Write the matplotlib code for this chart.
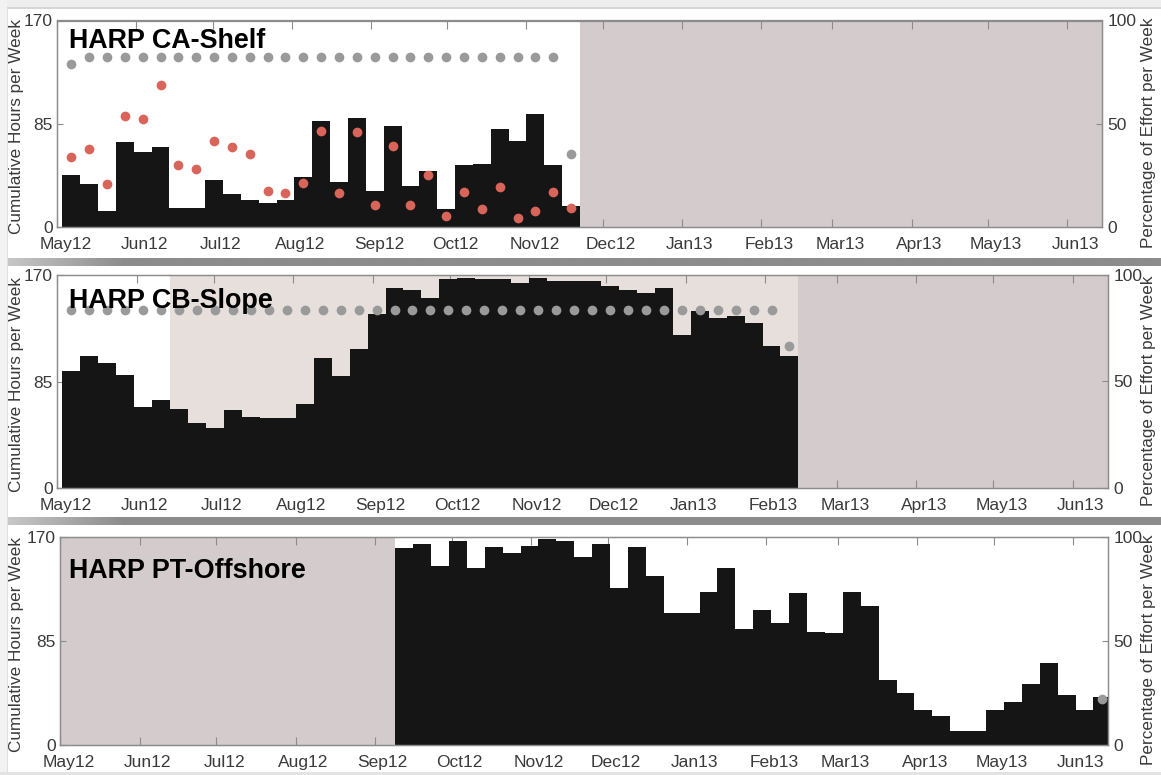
import matplotlib
matplotlib.use('Agg')
import matplotlib.pyplot as plt
import matplotlib.dates as mdates
from matplotlib.patches import Rectangle
from matplotlib.transforms import ScaledTranslation
import numpy as np
import datetime as dt

plt.rcParams['font.family'] = ['Liberation Sans', 'DejaVu Sans']

W, H, DPI = 1161, 775, 100

# ---------------- data ----------------
ca_start = dt.date(2012, 5, 3)
ca_hours = [43, 35, 13, 70, 62, 66, 16, 16, 39, 27, 22, 20, 22, 41, 87, 37, 90, 30,
            83, 34, 46, 15, 51, 52, 81, 71, 93, 51, 17]
ca_red = [57.6, 64, 35, 91, 89, 117, 51, 48, 71, 66, 60, 30, 28, 36, 79, 28, 78, 18,
          67, 18, 43, 9, 29, 15, 33, 7, 13, 29, 16]
ca_effort = [79, 82.5, 82.5, 82.5, 82.5, 82.5, 82.5, 82.5, 82.5, 82.5, 82.5, 82.5,
             82.5, 82.5, 82.5, 82.5, 82.5, 82.5, 82.5, 82.5, 82.5, 82.5, 82.5, 82.5,
             82.5, 82.5, 82.5, 82.5, 35.5]

cb_start = dt.date(2012, 5, 3)
cb_hours = [93, 105, 100, 90, 65, 70, 63, 52, 48, 62, 57, 56, 56, 67, 104, 89, 111,
            139, 160, 158, 152, 167, 168, 167, 167, 164, 168, 165, 165, 165, 161, 158,
            156, 160, 122, 141, 136, 137, 132, 113, 105]
cb_effort = [83.4, 83.4, 83.4, 83.4, 83.4, 83.4, 83.4, 83.4, 83.4, 83.4, 83.4, 83.4,
             83.4, 83.4, 83.4, 83.4, 83.4, 83.4, 83.4, 83.4, 83.4, 83.4, 83.4, 83.4,
             83.4, 83.4, 83.4, 83.4, 83.4, 83.4, 83.4, 83.4, 83.4, 83.4, 83.4, 83.4,
             83.4, 83.4, 83.4, 83.4, 66.7]
cb_light_from_week = 6

pt_start = dt.date(2012, 9, 9)
pt_hours = [161, 164, 146, 167, 145, 162, 157, 163, 168, 167, 154, 164, 128, 162, 138,
            108, 108, 125, 145, 95, 110, 100, 124, 92, 91.5, 125, 114, 53.5, 42.7, 29,
            24, 11.7, 11.7, 29, 35, 50, 67, 41, 29, 39]
pt_effort_week = [39]
pt_effort = [22]

titles = ['HARP CA-Shelf', 'HARP CB-Slope', 'HARP PT-Offshore']
month_ticks = [dt.date(2012, m, 1) for m in range(5, 13)] + [dt.date(2013, m, 1) for m in range(1, 7)]
xlim = (mdates.date2num(dt.date(2012, 5, 1)) - 0.1, mdates.date2num(dt.date(2013, 6, 14)) + 0.7)

DARK = '#d4cbcc'
LIGHT = '#e6dfdc'
BAR = '#151515'
DOT = '#9a9a9a'
RED = '#d8645a'
SPINE = '#8c8c8c'
TXT = '#3a3a3a'

fig = plt.figure(figsize=(W / DPI, H / DPI), dpi=DPI, facecolor='white')


def rect(x0, y0, x1, y1, color, z=0):
    fig.patches.append(Rectangle((x0 / W, 1 - y1 / H), (x1 - x0) / W, (y1 - y0) / H,
                                 transform=fig.transFigure, facecolor=color,
                                 edgecolor='none', zorder=z))


# frame decorations (screenshot borders)
rect(0, 0, W, 8, '#eeeeee')
rect(0, 7.5, W, 8.5, '#d6d6d6')
rect(0, 0, 7, H, '#f2f2f2')
rect(6.5, 8, 7.5, H, '#e0e0e0')
rect(0, 772, W, H, '#e3e3e3')
for (y0, y1) in [(258, 266), (517, 525)]:
    sax = fig.add_axes([7 / W, 1 - y1 / H, (W - 7) / W, (y1 - y0) / H])
    xs = np.linspace(0, 1, 400)
    g = np.clip(xs / 0.1, 0, 1)
    vals = 0.78 - 0.23 * g
    sax.imshow(np.tile(vals, (8, 1)), cmap='gray', vmin=0, vmax=1, aspect='auto',
               extent=(0, 1, 0, 1))
    sax.axis('off')


def px_axes(l, t, r, b):
    return fig.add_axes([l / W, 1 - b / H, (r - l) / W, (b - t) / H])


boxes = [(57, 20.5, 1102, 227), (57, 275, 1108, 488), (60, 537, 1108, 745)]
title_base = [47.5, 308.5, 578]


def setup(ax, box):
    ax.set_xlim(*xlim)
    ax.set_ylim(0, 170)
    ax.set_yticks([0, 85, 170])
    ax.set_xticks([mdates.date2num(d) for d in month_ticks])
    ax.set_xticklabels([d.strftime('%b%y') for d in month_ticks])
    ax.tick_params(axis='x', which='both', top=True, bottom=True, direction='in',
                   length=5.5, width=0.8, color=SPINE, labelsize=12.5, labelcolor=TXT, pad=7)
    ax.tick_params(axis='y', left=True, right=False, direction='in', length=4,
                   width=0.8, color=SPINE, labelsize=12.5, labelcolor=TXT, pad=3)
    off = ScaledTranslation(8 / DPI, 0, fig.dpi_scale_trans)
    for lbl in ax.get_xticklabels():
        lbl.set_transform(lbl.get_transform() + off)
    for s in ax.spines.values():
        s.set_color(SPINE)
        s.set_linewidth(0.9)
    ax2 = ax.twinx()
    ax2.set_ylim(0, 100)
    ax2.set_yticks([0, 50, 100])
    ax2.tick_params(axis='y', left=False, right=True, direction='in', length=4,
                    width=0.8, color=SPINE, labelsize=12.5, labelcolor=TXT, pad=4)
    for s in ax2.spines.values():
        s.set_color(SPINE)
        s.set_linewidth(0.9)
    l, t, r, b = box
    cy = (t + b) / 2 + 3
    fig.text(17 / W, 1 - cy / H, 'Cumulative Hours per Week', rotation=90, ha='center',
             va='center', fontsize=12.3, color=TXT)
    fig.text(1149 / W, 1 - (cy + 6) / H, 'Percentage of Effort per Week', rotation=90,
             ha='center', va='center', fontsize=12.3, color=TXT)
    return ax2


def week_edges(start, n):
    s = mdates.date2num(start)
    return s + 7 * np.arange(n + 1)


def draw_bars(ax, start, vals):
    e = week_edges(start, len(vals))
    ax.stairs(vals, e, fill=True, color=BAR, linewidth=0, zorder=2)
    return (e[:-1] + e[1:]) / 2, e[-1]


# ---- Panel 1 ----
ax = px_axes(*boxes[0])
ax2 = setup(ax, boxes[0])
c, end = draw_bars(ax, ca_start, ca_hours)
ax.axvspan(end, xlim[1], color=DARK, zorder=0, lw=0)
ax.plot(c, ca_red, 'o', color=RED, ms=7, mec='none', zorder=4)
ax2.plot(c, ca_effort, 'o', color=DOT, ms=7, mec='none', zorder=4)

# ---- Panel 2 ----
ax = px_axes(*boxes[1])
ax2 = setup(ax, boxes[1])
c, end = draw_bars(ax, cb_start, cb_hours)
ax.axvspan(c[cb_light_from_week] - 3.5, end, color=LIGHT, zorder=0, lw=0)
ax.axvspan(end, xlim[1], color=DARK, zorder=0, lw=0)
ax2.plot(c, cb_effort, 'o', color=DOT, ms=7, mec='none', zorder=4)

# ---- Panel 3 ----
ax = px_axes(*boxes[2])
ax2 = setup(ax, boxes[2])
c, end = draw_bars(ax, pt_start, pt_hours)
ax.axvspan(xlim[0], c[0] - 3.5, color=DARK, zorder=0, lw=0)
ax2.plot(c[pt_effort_week], pt_effort, 'o', color=DOT, ms=7, mec='none', zorder=4)

for a in fig.axes:
    if a.get_xlim()[0] > 1000:
        a.set_xlim(*xlim)
        a.set_ylim(0, 170 if a.get_ylim()[1] > 120 else 100)

for t, yb in zip(titles, title_base):
    fig.text(69 / W, 1 - yb / H, t, fontsize=19.4, fontweight='bold', color='black',
             va='baseline', ha='left')

fig.savefig('out.png', dpi=DPI, facecolor=fig.get_facecolor())
